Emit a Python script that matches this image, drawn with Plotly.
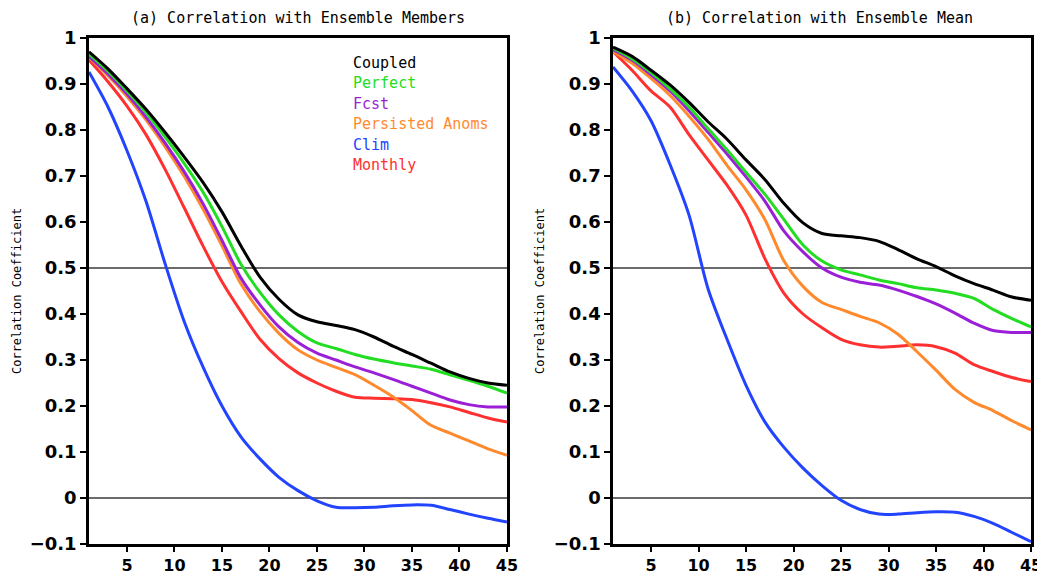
import plotly.graph_objects as go

days = [1, 3, 5, 7, 9, 11, 13, 15, 17, 19, 21, 23, 25, 27, 29, 31, 33, 35, 37, 39, 41, 43, 45]

labels = ["Coupled", "Perfect", "Fcst", "Persisted Anoms", "Clim", "Monthly"]
colors = ["#000000", "#22dd22", "#9a1fd6", "#ff8a2e", "#2244ff", "#ff3030"]

# (a) Correlation with Ensemble Members
a_coupled = [0.97, 0.933, 0.89, 0.845, 0.795, 0.742, 0.686, 0.622, 0.548, 0.48, 0.432, 0.398, 0.383, 0.375, 0.366, 0.35, 0.33, 0.312, 0.293, 0.274, 0.26, 0.25, 0.245]
a_perfect = [0.965, 0.928, 0.885, 0.838, 0.785, 0.728, 0.665, 0.59, 0.508, 0.447, 0.398, 0.362, 0.337, 0.325, 0.312, 0.302, 0.294, 0.287, 0.28, 0.268, 0.256, 0.243, 0.228]
a_fcst = [0.96, 0.922, 0.878, 0.828, 0.772, 0.71, 0.64, 0.56, 0.478, 0.42, 0.372, 0.338, 0.315, 0.3, 0.285, 0.272, 0.258, 0.243, 0.228, 0.213, 0.203, 0.198, 0.198]
a_persist = [0.958, 0.918, 0.873, 0.822, 0.764, 0.7, 0.628, 0.548, 0.465, 0.405, 0.358, 0.322, 0.3, 0.284, 0.268, 0.245, 0.22, 0.19, 0.158, 0.141, 0.124, 0.107, 0.093]
a_clim = [0.926, 0.85, 0.755, 0.645, 0.51, 0.385, 0.285, 0.2, 0.133, 0.085, 0.045, 0.016, -0.006, -0.02, -0.021, -0.02, -0.017, -0.015, -0.016, -0.025, -0.035, -0.044, -0.052]
a_monthly = [0.952, 0.905, 0.852, 0.79, 0.715, 0.632, 0.548, 0.47, 0.405, 0.345, 0.303, 0.272, 0.25, 0.232, 0.219, 0.217, 0.216, 0.214, 0.207, 0.198, 0.186, 0.174, 0.165]

# (b) Correlation with Ensemble Mean
b_coupled = [0.98, 0.96, 0.93, 0.898, 0.86, 0.818, 0.78, 0.735, 0.692, 0.64, 0.598, 0.575, 0.57, 0.566, 0.558, 0.54, 0.52, 0.503, 0.483, 0.466, 0.452, 0.437, 0.43]
b_perfect = [0.978, 0.955, 0.925, 0.89, 0.85, 0.803, 0.757, 0.708, 0.66, 0.605, 0.55, 0.515, 0.496, 0.485, 0.474, 0.466, 0.457, 0.452, 0.445, 0.434, 0.41, 0.39, 0.372]
b_fcst = [0.975, 0.952, 0.92, 0.885, 0.842, 0.795, 0.748, 0.698, 0.645, 0.58, 0.535, 0.5, 0.48, 0.469, 0.463, 0.452, 0.438, 0.422, 0.402, 0.38, 0.364, 0.36, 0.36]
b_persist = [0.97, 0.945, 0.912, 0.875, 0.83, 0.78, 0.723, 0.67, 0.605, 0.515, 0.46, 0.425, 0.41, 0.395, 0.381, 0.356, 0.318, 0.278, 0.236, 0.208, 0.19, 0.168, 0.148]
b_clim = [0.937, 0.885, 0.82, 0.725, 0.615, 0.455, 0.345, 0.245, 0.165, 0.11, 0.065, 0.027, -0.005, -0.025, -0.035, -0.035, -0.032, -0.03, -0.031, -0.04, -0.055, -0.075, -0.095]
b_monthly = [0.97, 0.93, 0.885, 0.85, 0.79, 0.735, 0.68, 0.615, 0.52, 0.445, 0.4, 0.37, 0.345, 0.333, 0.328, 0.33, 0.333, 0.329, 0.315, 0.29, 0.275, 0.262, 0.253]

titles = ["(a) Correlation with Ensemble Members", "(b) Correlation with Ensemble Mean"]
y_title = "Correlation Coefficient"
x_ticks = [5, 10, 15, 20, 25, 30, 35, 40, 45]
y_ticks = [-0.1, 0, 0.1, 0.2, 0.3, 0.4, 0.5, 0.6, 0.7, 0.8, 0.9, 1]
ref_lines = [0, 0.5]

panels = [
    [a_coupled, a_perfect, a_fcst, a_persist, a_clim, a_monthly],
    [b_coupled, b_perfect, b_fcst, b_persist, b_clim, b_monthly],
]

fig = go.Figure()
draw_order = [4, 5, 3, 2, 1, 0]
for p, series in enumerate(panels):
    xa = "x" if p == 0 else "x2"
    ya = "y" if p == 0 else "y2"
    for i in draw_order:
        fig.add_trace(go.Scatter(
            x=days, y=series[i], mode="lines", name=labels[i],
            line=dict(color=colors[i], width=3, shape="spline", smoothing=0.8),
            xaxis=xa, yaxis=ya, showlegend=False, hoverinfo="skip"))

font_ytick = dict(family="DejaVu Sans", size=18, color="#000000", weight="bold")
font_xtick = dict(family="DejaVu Sans", size=16, color="#000000", weight="bold")
axis_common = dict(showline=True, linewidth=2.5, linecolor="#000000", mirror=True,
                   ticks="outside", tickwidth=2, tickcolor="#000000",
                   showgrid=False, zeroline=False, automargin=False)
xaxis_style = dict(ticklen=5, tickfont=font_xtick, **axis_common)
yaxis_style = dict(ticklen=6, tickfont=font_ytick, **axis_common)

# page body adds an 8px offset, so the figure is 8px smaller than the window
fig.update_layout(
    width=1037, height=568,
    margin=dict(l=81, r=14, t=30, b=32, autoexpand=False),
    paper_bgcolor="white", plot_bgcolor="white",
    xaxis=dict(domain=[0, 0.4437], range=[1, 45], tickvals=x_ticks, anchor="y", **xaxis_style),
    yaxis=dict(domain=[0, 1], range=[-0.1, 1], tickvals=y_ticks, anchor="x", **yaxis_style),
    xaxis2=dict(domain=[0.5563, 1], range=[1, 45], tickvals=x_ticks, anchor="y2", **xaxis_style),
    yaxis2=dict(domain=[0, 1], range=[-0.1, 1], tickvals=y_ticks, anchor="x2", **yaxis_style),
)

shapes = []
for p in range(2):
    xr = "x domain" if p == 0 else "x2 domain"
    yr = "y" if p == 0 else "y2"
    for v in ref_lines:
        shapes.append(dict(type="line", xref=xr, yref=yr, x0=0, x1=1, y0=v, y1=v,
                           line=dict(color="#3a3a3a", width=1.5), layer="below"))
fig.update_layout(shapes=shapes)

annotations = []
title_x = [0.222, 0.776]
ytitle_x = [-0.0764, 0.4788]
for p in range(2):
    annotations.append(dict(text=titles[p], xref="paper", yref="paper", x=title_x[p], y=1.04,
                            showarrow=False, xanchor="center", yanchor="middle",
                            font=dict(family="DejaVu Sans Mono", size=15, color="#000000")))
    annotations.append(dict(text=y_title, xref="paper", yref="paper", x=ytitle_x[p], y=0.5,
                            showarrow=False, textangle=-90, xanchor="center", yanchor="middle",
                            font=dict(family="DejaVu Sans Mono", size=12, color="#000000")))

legend_y = [0.951, 0.911, 0.870, 0.830, 0.789, 0.749]
for i, lab in enumerate(labels):
    annotations.append(dict(text=lab, xref="x domain", yref="y domain", x=0.627, y=legend_y[i],
                            showarrow=False, xanchor="left", yanchor="middle",
                            font=dict(family="DejaVu Sans Mono", size=15, color=colors[i])))
fig.update_layout(annotations=annotations)

fig.write_html("out.html")
